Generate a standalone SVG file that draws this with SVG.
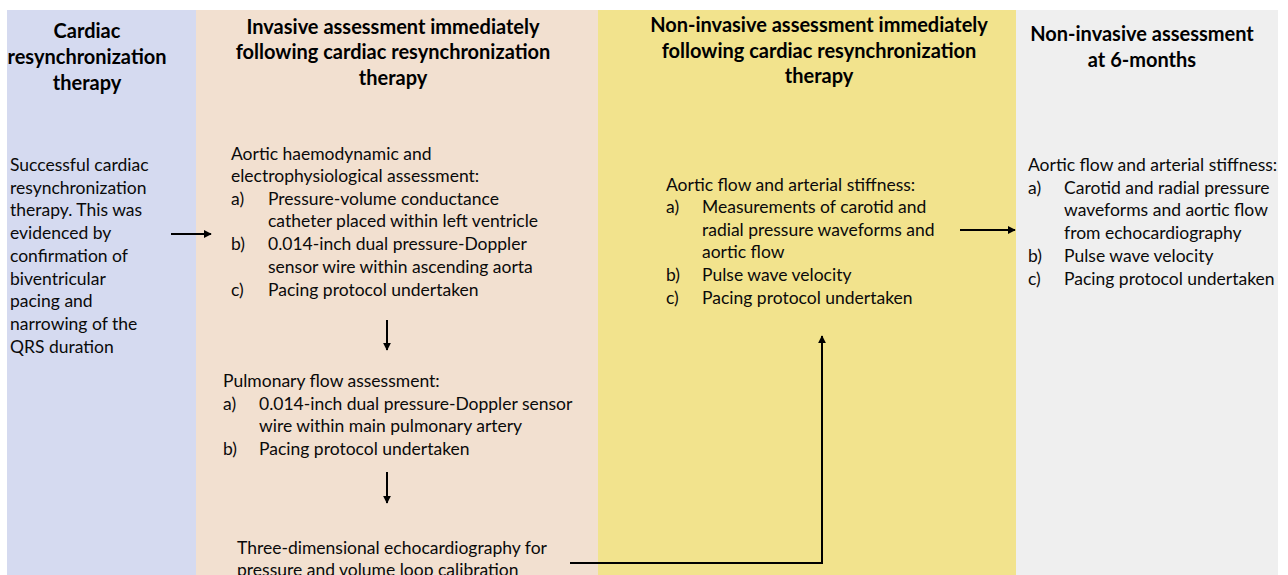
<svg xmlns="http://www.w3.org/2000/svg" width="1288" height="575" viewBox="0 0 1288 575">
<style>
.h{font-family:Lato,"Open Sans",sans-serif;font-weight:bold;font-size:20px;fill:#000;text-anchor:middle}
.t{font-family:Lato,"Open Sans",sans-serif;font-size:17.5px;fill:#0a0a0a}
.c{stroke:#000;stroke-width:2;fill:none}
</style>
<defs>
<marker id="ah" viewBox="0 0 10 10" refX="9" refY="5" markerWidth="4" markerHeight="4" orient="auto" markerUnits="strokeWidth">
<path d="M0,0 L10,5 L0,10 z" fill="#000"/>
</marker>
</defs>
<rect width="1288" height="575" fill="#fff"/>
<g id="col-crt">
<rect x="7" y="10" width="189" height="565" fill="#D5DAF0"/>
<text class="h"><tspan x="87" y="38">Cardiac</tspan><tspan x="87" y="64">resynchronization</tspan><tspan x="87" y="90">therapy</tspan></text>
<text class="t"><tspan x="10" y="171">Successful cardiac</tspan><tspan x="10" y="194">resynchronization</tspan><tspan x="10" y="216">therapy. This was</tspan><tspan x="10" y="239">evidenced by</tspan><tspan x="10" y="262">confirmation of</tspan><tspan x="10" y="285">biventricular</tspan><tspan x="10" y="307">pacing and</tspan><tspan x="10" y="330">narrowing of the</tspan><tspan x="10" y="353">QRS duration</tspan></text>
</g>
<g id="col-invasive">
<rect x="196" y="10" width="402" height="565" fill="#F2E0D0"/>
<text class="h"><tspan x="393" y="34">Invasive assessment immediately</tspan><tspan x="393" y="59">following cardiac resynchronization</tspan><tspan x="393" y="85">therapy</tspan></text>
</g>
<g id="node-aortic-haemo">
<text class="t"><tspan x="231" y="160">Aortic haemodynamic and</tspan><tspan x="231" y="182">electrophysiological assessment:</tspan><tspan x="231" y="205">a)</tspan><tspan x="268" y="205">Pressure-volume conductance</tspan><tspan x="268" y="227">catheter placed within left ventricle</tspan><tspan x="231" y="250">b)</tspan><tspan x="268" y="250">0.014-inch dual pressure-Doppler</tspan><tspan x="268" y="273">sensor wire within ascending aorta</tspan><tspan x="231" y="296">c)</tspan><tspan x="268" y="296">Pacing protocol undertaken</tspan></text>
</g>
<g id="node-pulmonary">
<text class="t"><tspan x="223" y="387">Pulmonary flow assessment:</tspan><tspan x="223" y="410">a)</tspan><tspan x="259" y="410">0.014-inch dual pressure-Doppler sensor</tspan><tspan x="259" y="432">wire within main pulmonary artery</tspan><tspan x="223" y="455">b)</tspan><tspan x="259" y="455">Pacing protocol undertaken</tspan></text>
</g>
<g id="node-echo3d">
<text class="t"><tspan x="237" y="554">Three-dimensional echocardiography for</tspan><tspan x="237" y="576">pressure and volume loop calibration</tspan></text>
</g>
<g id="col-noninvasive">
<rect x="598" y="10" width="418" height="565" fill="#F2E38D"/>
<text class="h"><tspan x="819" y="32">Non-invasive assessment immediately</tspan><tspan x="819" y="58">following cardiac resynchronization</tspan><tspan x="819" y="83">therapy</tspan></text>
<text class="t"><tspan x="666" y="191">Aortic flow and arterial stiffness:</tspan><tspan x="666" y="213">a)</tspan><tspan x="702" y="213">Measurements of carotid and</tspan><tspan x="702" y="236">radial pressure waveforms and</tspan><tspan x="702" y="258">aortic flow</tspan><tspan x="666" y="281">b)</tspan><tspan x="702" y="281">Pulse wave velocity</tspan><tspan x="666" y="304">c)</tspan><tspan x="702" y="304">Pacing protocol undertaken</tspan></text>
</g>
<g id="col-6months">
<rect x="1016" y="10" width="262" height="565" fill="#EFEFEF"/>
<text class="h"><tspan x="1142" y="41">Non-invasive assessment</tspan><tspan x="1142" y="67">at 6-months</tspan></text>
<text class="t"><tspan x="1028" y="171">Aortic flow and arterial stiffness:</tspan><tspan x="1028" y="194">a)</tspan><tspan x="1064" y="194">Carotid and radial pressure</tspan><tspan x="1064" y="216">waveforms and aortic flow</tspan><tspan x="1064" y="239">from echocardiography</tspan><tspan x="1028" y="262">b)</tspan><tspan x="1064" y="262">Pulse wave velocity</tspan><tspan x="1028" y="285">c)</tspan><tspan x="1064" y="285">Pacing protocol undertaken</tspan></text>
</g>
<g id="connectors">
<line class="c" x1="171" y1="234" x2="211" y2="234" marker-end="url(#ah)"/>
<line class="c" x1="387" y1="320" x2="387" y2="350" marker-end="url(#ah)"/>
<line class="c" x1="387" y1="472" x2="387" y2="503" marker-end="url(#ah)"/>
<polyline class="c" points="570,563 822,563 822,336" marker-end="url(#ah)"/>
<line class="c" x1="960" y1="230" x2="1015" y2="230" marker-end="url(#ah)"/>
</g>
</svg>
